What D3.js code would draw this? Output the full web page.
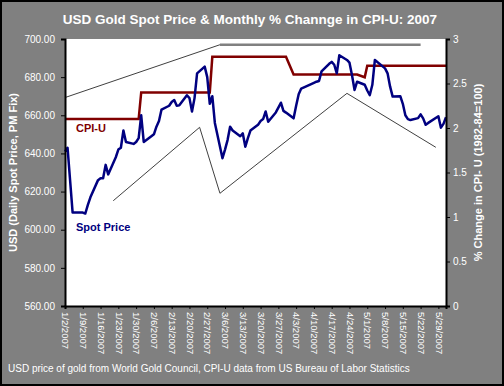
<!DOCTYPE html>
<html>
<head>
<meta charset="utf-8">
<script src="https://cdn.jsdelivr.net/npm/d3@7"></script>
<style>
  body { margin: 0; background: #fff; }
  text { font-family: Arial, "Liberation Sans", sans-serif; }
</style>
</head>
<body>
<script>
// daily London PM fix
const goldDates = [
  "2007-01-02","2007-01-03","2007-01-04","2007-01-05","2007-01-08","2007-01-09","2007-01-10","2007-01-11","2007-01-12",
  "2007-01-15","2007-01-16","2007-01-17","2007-01-18","2007-01-19","2007-01-22","2007-01-23","2007-01-24","2007-01-25",
  "2007-01-26","2007-01-29","2007-01-30","2007-01-31","2007-02-01","2007-02-02","2007-02-05","2007-02-06","2007-02-07",
  "2007-02-08","2007-02-09","2007-02-12","2007-02-13","2007-02-14","2007-02-15","2007-02-16","2007-02-19","2007-02-20",
  "2007-02-21","2007-02-22","2007-02-23","2007-02-26","2007-02-27","2007-02-28","2007-03-01","2007-03-02","2007-03-05",
  "2007-03-06","2007-03-07","2007-03-08","2007-03-09","2007-03-12","2007-03-13","2007-03-14","2007-03-15","2007-03-16",
  "2007-03-19","2007-03-20","2007-03-21","2007-03-22","2007-03-23","2007-03-26","2007-03-27","2007-03-28","2007-03-29",
  "2007-03-30","2007-04-02","2007-04-03","2007-04-04","2007-04-05","2007-04-10","2007-04-11","2007-04-12","2007-04-13",
  "2007-04-16","2007-04-17","2007-04-18","2007-04-19","2007-04-20","2007-04-23","2007-04-24","2007-04-25","2007-04-26",
  "2007-04-27","2007-04-30","2007-05-01","2007-05-02","2007-05-03","2007-05-04","2007-05-08","2007-05-09","2007-05-10",
  "2007-05-11","2007-05-14","2007-05-15","2007-05-16","2007-05-17","2007-05-18","2007-05-21","2007-05-22","2007-05-23",
  "2007-05-24","2007-05-25","2007-05-29","2007-05-30","2007-05-31","2007-06-01"
];
const goldPrices = [
  641, 643, 626, 609, 609, 609, 608.5, 613, 617,
  626, 627, 627, 634, 629, 638, 642, 643, 652,
  646, 645, 646, 648, 660, 646, 649, 650, 654,
  657, 663, 665, 667, 668, 665, 665.2, 670.5, 669,
  662, 669, 682, 685.5, 680, 666, 670, 656, 637.5,
  642, 647, 654, 652, 649, 650.5, 643.5, 648, 652,
  655, 657, 658, 662, 656.6, 661.5, 664, 666.6, 662.3,
  661.4, 658.4, 665, 671, 674, 677, 677.6, 678, 683,
  687, 688, 686.5, 682, 691.5, 689, 687.6, 681, 673.3,
  677.6, 676, 673, 670.6, 676, 689, 684.6, 682, 675,
  669.8, 670, 666, 660, 658, 657.5, 658.5, 660.5, 658.4,
  655, 656, 659.5, 653.5, 655.5, 659
];

// CPI-U, % change from a year earlier, one value per month
const cpiMonths = ["2007-01", "2007-02", "2007-03", "2007-04", "2007-05", "2007-06"];
const cpiValues = [2.1, 2.4, 2.8, 2.6, 2.7, 2.7];
const cpiOddDays = ["2007-04-30"];
const cpiOddValues = [2.57];

// hand drawn trend lines on the original chart (dates, USD)
const upperTrendDates = ["2007-01-02", "2007-03-04"];
const upperTrendValues = [669.3, 697];
const topBandDates = ["2007-03-04", "2007-05-22"];
const topBandValues = [697, 697];
const lowerTrendDates = ["2007-01-21", "2007-02-24", "2007-03-04", "2007-04-23", "2007-05-28"];
const lowerTrendValues = [615.2, 653.7, 619.1, 671.5, 643.2];

const xTickLabels = ["1/2/2007","1/9/2007","1/16/2007","1/23/2007","1/30/2007","2/6/2007","2/13/2007","2/20/2007",
  "2/27/2007","3/6/2007","3/13/2007","3/20/2007","3/27/2007","4/3/2007","4/10/2007","4/17/2007","4/24/2007",
  "5/1/2007","5/8/2007","5/15/2007","5/22/2007","5/29/2007"];
const leftTicks = [560, 580, 600, 620, 640, 660, 680, 700];
const rightTicks = [0, 0.5, 1, 1.5, 2, 2.5, 3];

const W = 504, H = 386;
const plot = { left: 65, right: 446, top: 39, bottom: 306 };

const parseDay = d3.timeParse("%Y-%m-%d");
const parseLabel = d3.timeParse("%m/%d/%Y");
const monthKey = d3.timeFormat("%Y-%m");

const x = d3.scaleTime()
  .domain([parseDay("2007-01-02"), parseDay("2007-06-01")])
  .range([plot.left, plot.right]);
const yL = d3.scaleLinear().domain([560, 700]).range([plot.bottom, plot.top]);
const yR = d3.scaleLinear().domain([0, 3]).range([plot.bottom, plot.top]);

const gold = goldDates.map((d, i) => ({ date: parseDay(d), value: goldPrices[i] }));
const cpi = gold.map(d => {
  const odd = cpiOddDays.indexOf(d3.timeFormat("%Y-%m-%d")(d.date));
  const v = odd >= 0 ? cpiOddValues[odd] : cpiValues[cpiMonths.indexOf(monthKey(d.date))];
  return { date: d.date, value: v };
});
const pts = (dates, vals) => dates.map((d, i) => ({ date: parseDay(d), value: vals[i] }));

const svg = d3.select("body").append("svg")
  .attr("width", W)
  .attr("height", H);

// grey chart area with black frame
svg.append("rect")
  .attr("x", 1).attr("y", 1)
  .attr("width", W - 2).attr("height", H - 2)
  .attr("fill", "#808080")
  .attr("stroke", "#000")
  .attr("stroke-width", 2);

svg.append("rect")
  .attr("x", plot.left).attr("y", plot.top)
  .attr("width", plot.right - plot.left)
  .attr("height", plot.bottom - plot.top)
  .attr("fill", "#fff");

const lineL = d3.line().x(d => x(d.date)).y(d => yL(d.value));
const lineR = d3.line().x(d => x(d.date)).y(d => yR(d.value));

// trend annotations
svg.append("path").datum(pts(upperTrendDates, upperTrendValues))
  .attr("d", lineL).attr("fill", "none").attr("stroke", "#404040").attr("stroke-width", 1);
svg.append("path").datum(pts(topBandDates, topBandValues))
  .attr("d", lineL).attr("fill", "none").attr("stroke", "#808080").attr("stroke-width", 2.5);
svg.append("path").datum(pts(lowerTrendDates, lowerTrendValues))
  .attr("d", lineL).attr("fill", "none").attr("stroke", "#404040").attr("stroke-width", 1);

// CPI-U
svg.append("path").datum(cpi)
  .attr("d", lineR)
  .attr("fill", "none")
  .attr("stroke", "#800000")
  .attr("stroke-width", 2.5);

// gold
svg.append("path").datum(gold)
  .attr("d", lineL)
  .attr("fill", "none")
  .attr("stroke", "#000080")
  .attr("stroke-width", 2.5)
  .attr("stroke-linejoin", "round");

// axes
const axL = svg.append("g")
  .attr("transform", `translate(${plot.left},0)`)
  .call(d3.axisLeft(yL).tickValues(leftTicks).tickFormat(d3.format(".2f")).tickSizeOuter(0).tickSize(4).tickPadding(6));
const axR = svg.append("g")
  .attr("transform", `translate(${plot.right},0)`)
  .call(d3.axisRight(yR).tickValues(rightTicks).tickFormat(d => d).tickSizeOuter(0).tickSize(4).tickPadding(3));
const axB = svg.append("g")
  .attr("transform", `translate(0,${plot.bottom})`)
  .call(d3.axisBottom(x).tickValues(xTickLabels.map(parseLabel)).tickFormat(d3.timeFormat("%-m/%-d/%Y")).tickSizeOuter(0).tickSize(3));

[axL, axR, axB].forEach(g => {
  g.select(".domain").attr("stroke", "#000").attr("stroke-width", 2);
  g.selectAll(".tick line").attr("stroke", "#000");
  g.selectAll("text").attr("fill", "#fff").style("font-size", "10px");
});
axB.selectAll("text")
  .style("font-size", "9.5px")
  .attr("text-anchor", "start")
  .attr("dy", "0.35em")
  .attr("transform", "translate(0,6) rotate(90)")
  .attr("x", 0).attr("y", 0);

// titles
svg.append("text")
  .attr("x", 250).attr("y", 24)
  .attr("text-anchor", "middle")
  .attr("fill", "#fff")
  .style("font-size", "13.5px").style("font-weight", "bold")
  .text("USD Gold Spot Price & Monthly % Channge in CPI-U: 2007");

svg.append("text")
  .attr("transform", `translate(17,${(plot.top + plot.bottom) / 2}) rotate(-90)`)
  .attr("text-anchor", "middle")
  .attr("fill", "#fff")
  .style("font-size", "11px").style("font-weight", "bold")
  .text("USD (Daily Spot Price, PM Fix)");

svg.append("text")
  .attr("transform", `translate(482,${(plot.top + plot.bottom) / 2}) rotate(-90)`)
  .attr("text-anchor", "middle")
  .attr("fill", "#fff")
  .style("font-size", "11px").style("font-weight", "bold")
  .text("% Change in CPI- U (1982-84=100)");

// series labels
svg.append("text")
  .attr("x", 76).attr("y", 132)
  .attr("fill", "#800000")
  .style("font-size", "11px").style("font-weight", "bold")
  .text("CPI-U");
svg.append("text")
  .attr("x", 76).attr("y", 231)
  .attr("fill", "#000080")
  .style("font-size", "11px").style("font-weight", "bold")
  .text("Spot Price");

// source note
svg.append("text")
  .attr("x", 8).attr("y", 372)
  .attr("fill", "#fff")
  .style("font-size", "10px")
  .text("USD price of gold from World Gold Council, CPI-U data from US Bureau of Labor Statistics");
</script>
</body>
</html>
